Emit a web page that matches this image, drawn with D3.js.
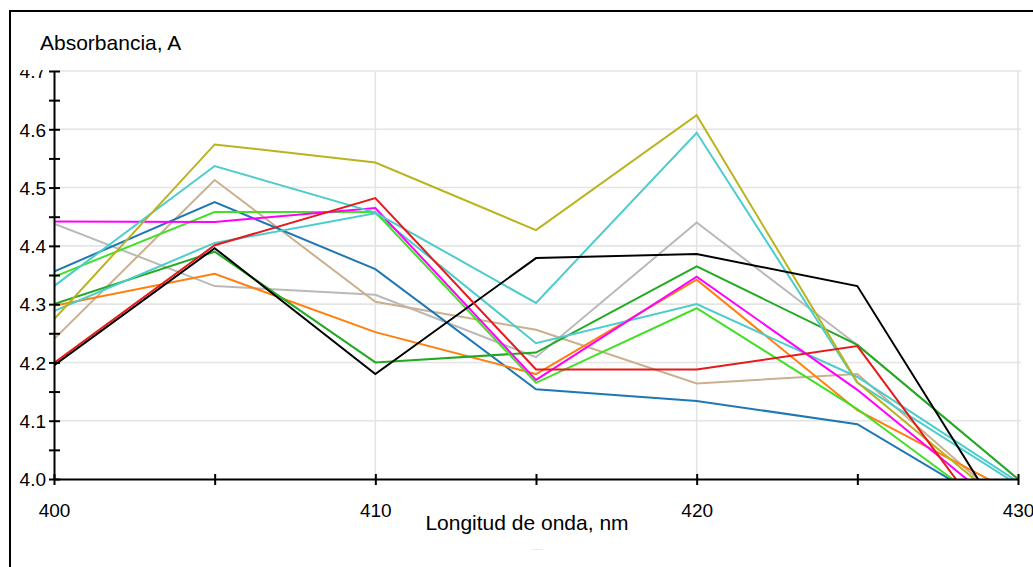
<!DOCTYPE html>
<html>
<head>
<meta charset="utf-8">
<script src="https://cdn.jsdelivr.net/npm/d3@7"></script>
<style>
  html, body { margin: 0; padding: 0; background: #fff; }
  svg { display: block; font-family: "Liberation Sans", Arial, sans-serif; }
</style>
</head>
<body>
<svg id="chart" width="1033" height="567"></svg>
<script>
// ---- data ----
const wavelengths = [400, 405, 410, 415, 420, 425, 430];
const olive     = [4.274, 4.574, 4.543, 4.427, 4.624, 4.166, 3.938];
const cyan1     = [4.331, 4.537, 4.457, 4.302, 4.594, 4.165, 3.990];
const cyan2     = [4.288, 4.405, 4.456, 4.233, 4.300, 4.175, 3.995];
const tan       = [4.240, 4.513, 4.304, 4.256, 4.164, 4.180, 3.940];
const gray      = [4.438, 4.331, 4.316, 4.209, 4.440, 4.230, 4.000];
const blue      = [4.356, 4.475, 4.360, 4.154, 4.134, 4.094, 3.930];
const magenta   = [4.442, 4.441, 4.465, 4.170, 4.347, 4.153, 3.928];
const lime      = [4.347, 4.458, 4.458, 4.165, 4.293, 4.120, 3.917];
const red       = [4.199, 4.401, 4.482, 4.188, 4.188, 4.228, 3.856];
const black     = [4.195, 4.396, 4.180, 4.379, 4.386, 4.331, 3.890];
const darkgreen = [4.300, 4.390, 4.200, 4.217, 4.365, 4.230, 4.000];
const orange    = [4.297, 4.352, 4.252, 4.180, 4.342, 4.118, 3.973];

const seriesNames = ["gray","tan","blue","orange","darkgreen","cyan2","lime","magenta","cyan1","olive","black","red"];
const seriesValues = {olive, cyan1, cyan2, tan, gray, blue, magenta, lime, red, black, darkgreen, orange};
const seriesColors = {
  olive: "#b9b41e", cyan1: "#4ccccc", cyan2: "#4ccccc", tan: "#cbb08f", gray: "#b9b9b9",
  blue: "#1f77b4", magenta: "#ff00ff", lime: "#44e028", red: "#e41a1c", black: "#000000",
  darkgreen: "#22aa22", orange: "#ff7f0e"
};

const yMajorTicks = [4.0, 4.1, 4.2, 4.3, 4.4, 4.5, 4.6, 4.7];
const yAllTicks = [4.0, 4.05, 4.1, 4.15, 4.2, 4.25, 4.3, 4.35, 4.4, 4.45, 4.5, 4.55, 4.6, 4.65, 4.7];
const xMajorTicks = [400, 410, 420, 430];
const xAllTicks = [400, 405, 410, 415, 420, 425, 430];

const yTitle = "Absorbancia, A";
const xTitle = "Longitud de onda, nm";

// ---- layout ----
const svg = d3.select("#chart");
const x = d3.scaleLinear().domain([400, 430]).range([54, 1018]);
const y = d3.scaleLinear().domain([4.0, 4.7]).range([479, 71]);

const defs = svg.append("defs");
defs.append("clipPath").attr("id", "plotclip")
  .append("rect").attr("x", x(400)).attr("y", y(4.7) - 2)
  .attr("width", x(430) - x(400) + 4).attr("height", y(4.0) - y(4.7) + 2);
// clip in y-axis group's local coordinates (group is translated by x(400))
defs.append("clipPath").attr("id", "labelclip")
  .append("rect").attr("x", -60).attr("y", 70).attr("width", 120).attr("height", 500);

// outer frame
svg.append("rect").attr("x", 10).attr("y", 11).attr("width", 1060).attr("height", 620)
  .attr("fill", "none").attr("stroke", "#000").attr("stroke-width", 2);

// gridlines
const grid = svg.append("g");
grid.selectAll("line.h").data(yMajorTicks.slice(1)).join("line")
  .attr("x1", x(400)).attr("x2", x(430) + 3)
  .attr("y1", d => y(d)).attr("y2", d => y(d))
  .attr("stroke", "#e4e4e4").attr("stroke-width", 1.6);
grid.selectAll("line.v").data(xMajorTicks.slice(1)).join("line")
  .attr("x1", d => x(d)).attr("x2", d => x(d))
  .attr("y1", y(4.7)).attr("y2", y(4.0))
  .attr("stroke", "#e4e4e4").attr("stroke-width", 1.6);

// series
const line = d3.line().x((d, i) => x(wavelengths[i])).y(d => y(d));
const lines = svg.append("g").attr("clip-path", "url(#plotclip)");
seriesNames.forEach(name => {
  lines.append("path")
    .datum(seriesValues[name])
    .attr("d", line)
    .attr("fill", "none")
    .attr("stroke", seriesColors[name])
    .attr("stroke-width", 2)
    .attr("stroke-linejoin", "miter");
});

// y axis
const yAxis = d3.axisLeft(y).tickValues(yAllTicks).tickSizeOuter(0)
  .tickFormat(d => yMajorTicks.some(m => Math.abs(m - d) < 1e-9) ? d3.format(".1f")(d) : "");
const yg = svg.append("g").attr("transform", `translate(${x(400)},0)`).call(yAxis);
yg.select(".domain").attr("stroke", "#000").attr("stroke-width", 2);
yg.selectAll(".tick line").attr("x1", -5).attr("x2", 6).attr("stroke", "#000").attr("stroke-width", 2);
yg.attr("clip-path", "url(#labelclip)");
yg.selectAll(".tick text").attr("x", -8).attr("dy", "0.36em")
  .attr("font-size", 19).attr("fill", "#000").attr("font-family", "Liberation Sans, Arial, sans-serif");

// x axis
const xAxis = d3.axisBottom(x).tickValues(xAllTicks).tickSizeOuter(0)
  .tickFormat(d => xMajorTicks.includes(d) ? d3.format("d")(d) : "");
const xg = svg.append("g").attr("transform", `translate(0,${y(4.0)})`).call(xAxis);
xg.select(".domain").attr("stroke", "#000").attr("stroke-width", 2);
xg.selectAll(".tick line").attr("y1", -5).attr("y2", 6).attr("stroke", "#000").attr("stroke-width", 2);
xg.selectAll(".tick text").attr("y", 38).attr("dy", 0)
  .attr("font-size", 19).attr("fill", "#000").attr("font-family", "Liberation Sans, Arial, sans-serif");

// titles
svg.append("text").attr("x", 40).attr("y", 50).attr("font-size", 21).attr("fill", "#000").text(yTitle);
svg.append("text").attr("x", 527).attr("y", 530).attr("text-anchor", "middle")
  .attr("font-size", 21).attr("fill", "#000").text(xTitle);
svg.append("text").attr("x", 537).attr("y", 552).attr("text-anchor", "middle")
  .attr("font-size", 7).attr("fill", "#b0b0b0").text("·····");
</script>
</body>
</html>
